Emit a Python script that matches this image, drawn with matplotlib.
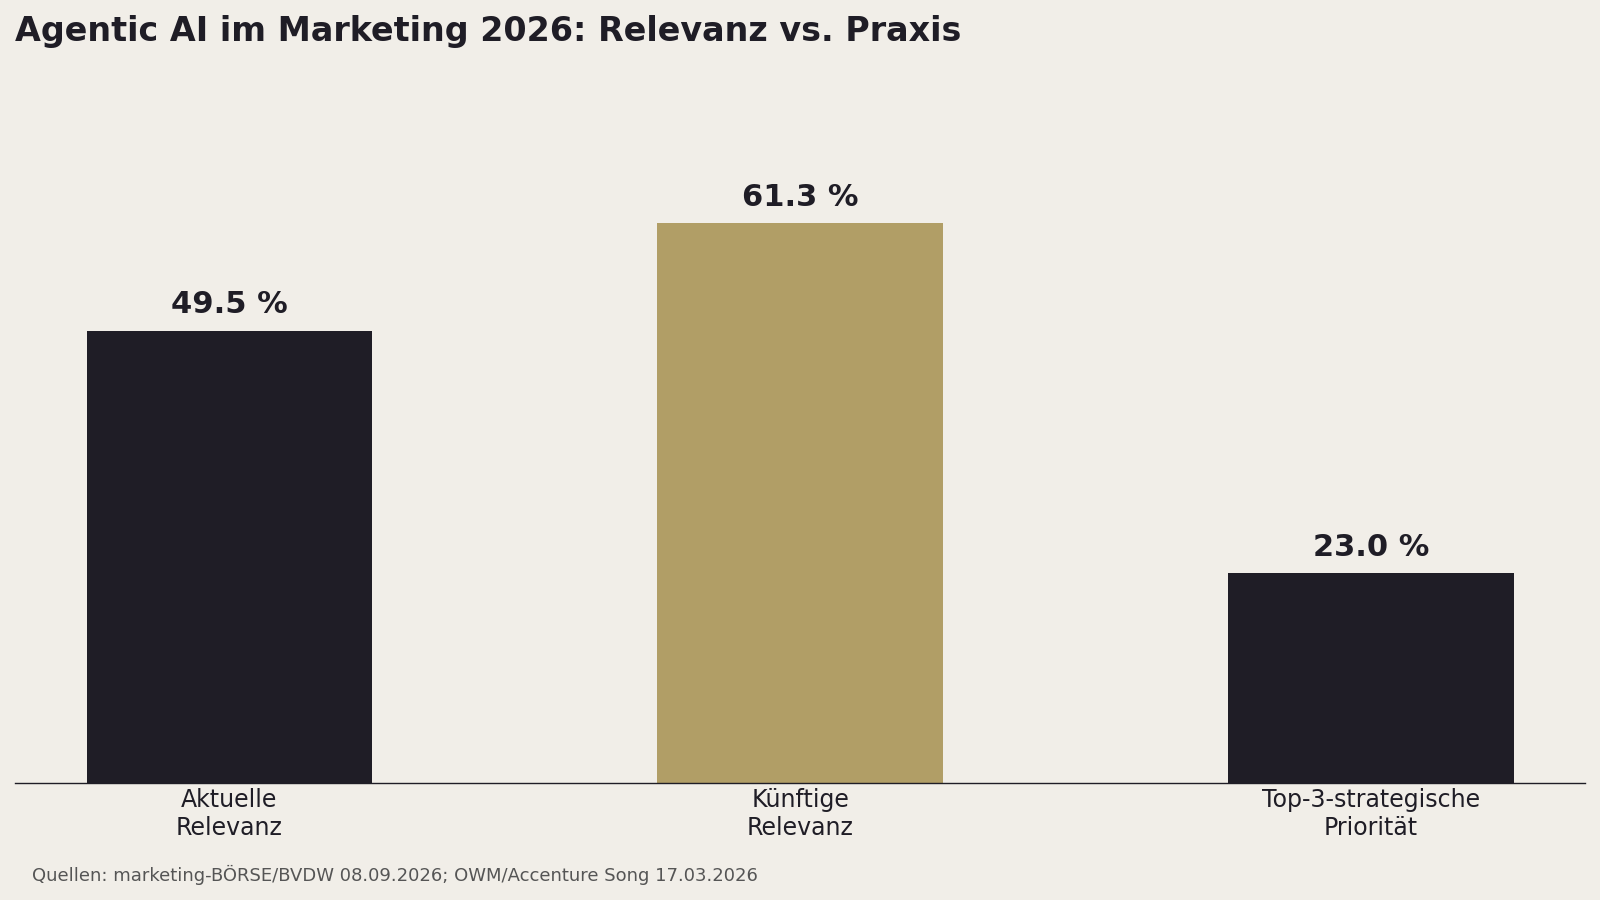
import matplotlib
matplotlib.use("Agg")
import matplotlib.pyplot as plt

categories = ["Aktuelle\nRelevanz", "Künftige\nRelevanz", "Top-3-strategische\nPriorität"]
values = [49.5, 61.3, 23.0]
value_labels = ["49.5 %", "61.3 %", "23.0 %"]
bar_colors = ["#1f1d26", "#b19e66", "#1f1d26"]

title = "Agentic AI im Marketing 2026: Relevanz vs. Praxis"
source = "Quellen: marketing-BÖRSE/BVDW 08.09.2026; OWM/Accenture Song 17.03.2026"

BG = "#f1eee8"
DARK = "#1f1d26"

plt.rcParams['font.family'] = ['DejaVu Sans']
fig = plt.figure(figsize=(16, 9), dpi=100, facecolor=BG)
ax = fig.add_axes([0.0096, 0.13, 0.981, 0.716])
ax.set_facecolor(BG)

x = list(range(len(categories)))
bars = ax.bar(x, values, width=0.5, color=bar_colors)
ax.set_ylim(0, max(values) * 1.15)
ax.set_xticks(x)
ax.set_xticklabels(categories, fontsize=17, color=DARK)
ax.tick_params(axis='x', length=0, pad=3.5)
ax.set_yticks([])
for s in ["top", "right", "left"]:
    ax.spines[s].set_visible(False)
ax.spines["bottom"].set_color(DARK)
ax.spines["bottom"].set_linewidth(1.0)

for xi, v, lab in zip(x, values, value_labels):
    ax.annotate(lab, (xi, v), xytext=(0, 8), textcoords="offset points",
                ha="center", va="bottom", fontsize=22, fontweight="bold", color=DARK)

fig.text(15 / 1600, 1 - 15 / 900, title, ha="left", va="top",
         fontsize=24, fontweight="bold", color=DARK)
fig.text(32 / 1600, 19 / 900, source, ha="left", va="baseline",
         fontsize=13, color="#555555")

fig.savefig("out.png", dpi=100, facecolor=BG)
